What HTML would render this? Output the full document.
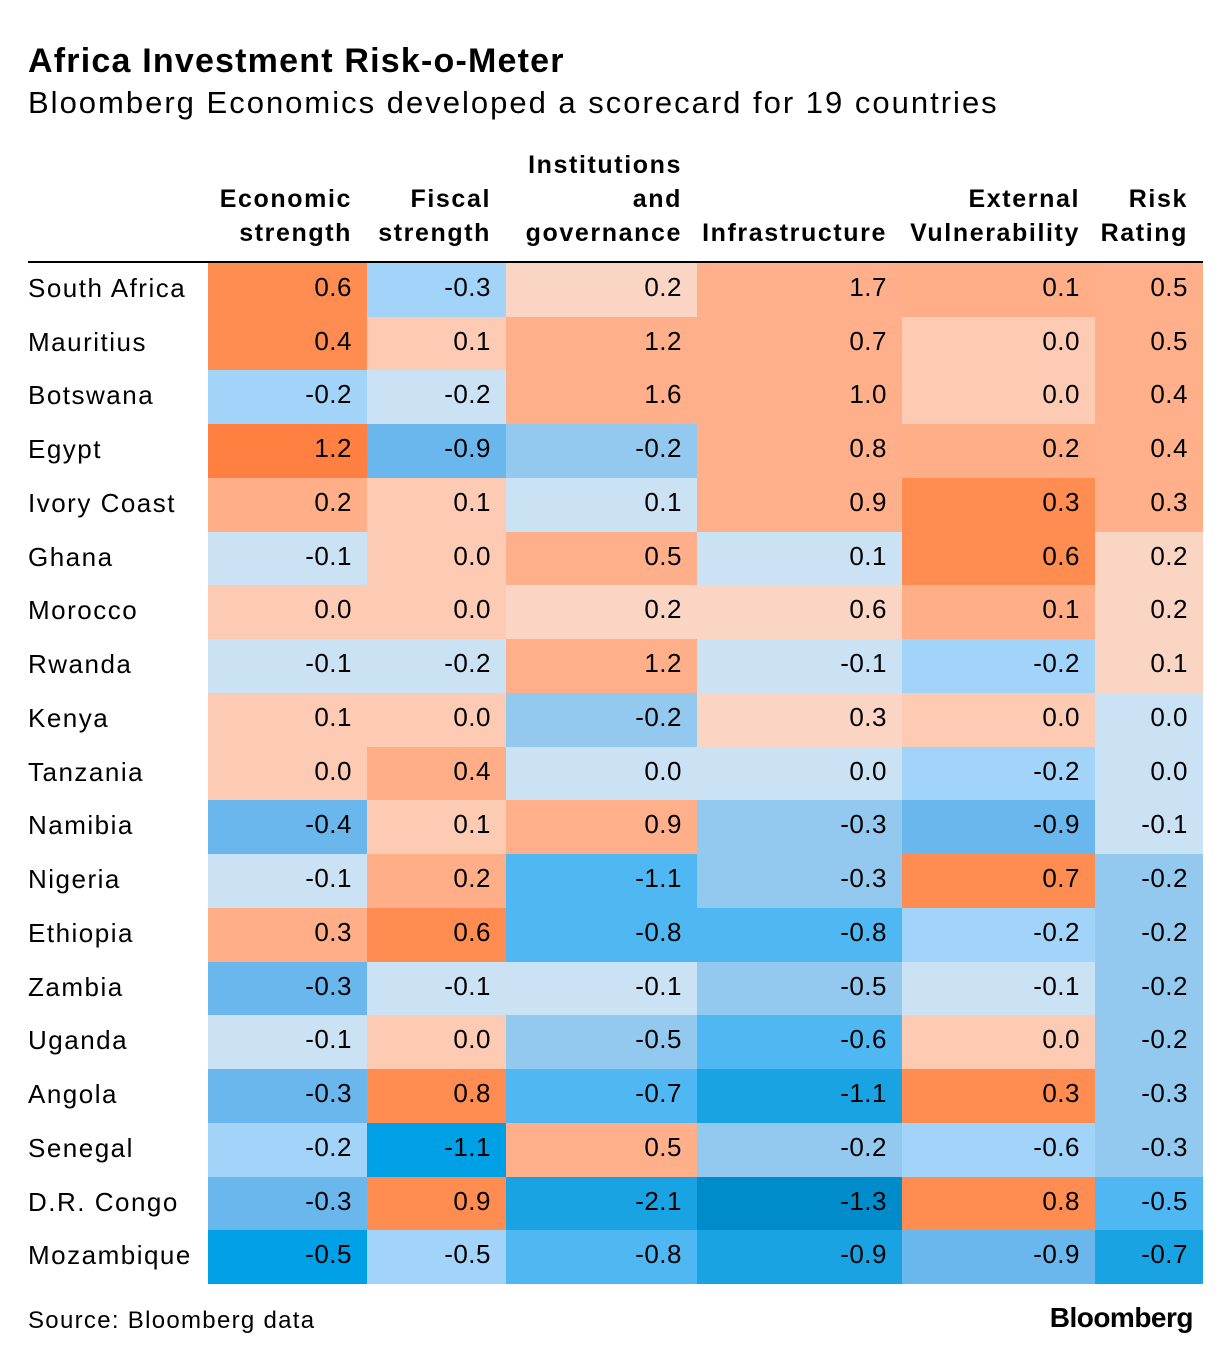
<!DOCTYPE html>
<html><head><meta charset="utf-8">
<style>
body{margin:0;width:1232px;height:1364px;background:#fff;font-family:"Liberation Sans",sans-serif;color:#000;position:relative;overflow:hidden}
.a{position:absolute}
.cell{position:absolute;box-sizing:border-box;text-align:right;padding-right:15px;font-size:26px;line-height:54px;letter-spacing:0.5px}
.rl{position:absolute;left:28px;font-size:26px;line-height:54px;letter-spacing:1.5px}
.hd{position:absolute;font-weight:bold;font-size:25px;line-height:34px;text-align:right;letter-spacing:1.6px}
</style></head><body>
<div class="a" style="left:28px;top:42px;font-size:34px;font-weight:bold;letter-spacing:1.2px">Africa Investment Risk-o-Meter</div>
<div class="a" style="left:28px;top:85px;font-size:31px;letter-spacing:2px">Bloomberg Economics developed a scorecard for 19 countries</div>
<div class="a" style="left:28px;top:261px;width:1175px;height:2px;background:#000"></div>
<div id="tbl"></div>
<div class="a" style="left:28px;top:1307px;font-size:24px;letter-spacing:1.3px">Source: Bloomberg data</div>
<div class="a" style="right:39px;top:1302px;font-size:28px;font-weight:bold;letter-spacing:-0.5px">Bloomberg</div>
<script>
const countries=["South Africa","Mauritius","Botswana","Egypt","Ivory Coast","Ghana","Morocco","Rwanda","Kenya","Tanzania","Namibia","Nigeria","Ethiopia","Zambia","Uganda","Angola","Senegal","D.R. Congo","Mozambique"];
const headers=[["Economic","strength"],["Fiscal","strength"],["Institutions","and","governance"],["Infrastructure"],["External","Vulnerability"],["Risk","Rating"]];
const economic=[0.6,0.4,-0.2,1.2,0.2,-0.1,0.0,-0.1,0.1,0.0,-0.4,-0.1,0.3,-0.3,-0.1,-0.3,-0.2,-0.3,-0.5];
const fiscal=[-0.3,0.1,-0.2,-0.9,0.1,0.0,0.0,-0.2,0.0,0.4,0.1,0.2,0.6,-0.1,0.0,0.8,-1.1,0.9,-0.5];
const institutions=[0.2,1.2,1.6,-0.2,0.1,0.5,0.2,1.2,-0.2,0.0,0.9,-1.1,-0.8,-0.1,-0.5,-0.7,0.5,-2.1,-0.8];
const infrastructure=[1.7,0.7,1.0,0.8,0.9,0.1,0.6,-0.1,0.3,0.0,-0.3,-0.3,-0.8,-0.5,-0.6,-1.1,-0.2,-1.3,-0.9];
const external=[0.1,0.0,0.0,0.2,0.3,0.6,0.1,-0.2,0.0,-0.2,-0.9,0.7,-0.2,-0.1,0.0,0.3,-0.6,0.8,-0.9];
const risk=[0.5,0.5,0.4,0.4,0.3,0.2,0.2,0.1,0.0,0.0,-0.1,-0.2,-0.2,-0.2,-0.2,-0.3,-0.3,-0.5,-0.7];
const series=[economic,fiscal,institutions,infrastructure,external,risk];
// per-column color breakpoints: [min value, color]
const scales=[
 [[1.0,"#ff8040"],[0.4,"#ff8c50"],[0.2,"#ffae88"],[0.0,"#fdcab4"],[-0.1,"#cbe1f4"],[-0.2,"#a2d3f8"],[-0.4,"#6ab7ee"],[-99,"#00a0e6"]],
 [[0.6,"#ff8c50"],[0.2,"#ffae88"],[0.0,"#fdcab4"],[-0.2,"#cbe1f4"],[-0.5,"#a2d3f8"],[-0.9,"#6ab7ee"],[-99,"#00a0e6"]],
 [[0.5,"#ffb08a"],[0.2,"#fbd5c4"],[-0.1,"#cbe1f4"],[-0.5,"#93c9ef"],[-1.1,"#4fb8f3"],[-99,"#1aa3e3"]],
 [[0.7,"#ffb08a"],[0.3,"#fbd5c4"],[-0.1,"#cbe1f4"],[-0.5,"#93c9ef"],[-0.8,"#4fb8f3"],[-1.1,"#1aa3e3"],[-99,"#008ccb"]],
 [[0.3,"#ff8c50"],[0.1,"#ffae88"],[0.0,"#fdcab4"],[-0.1,"#cbe1f4"],[-0.6,"#a2d3f8"],[-99,"#6ab7ee"]],
 [[0.3,"#ffb08a"],[0.1,"#fbd5c4"],[-0.1,"#cbe1f4"],[-0.3,"#93c9ef"],[-0.5,"#4fb8f3"],[-99,"#1aa3e3"]]
];
const colX=[208,367,506,697,902,1095,1203];
const top0=263,bottom=1284;
const rowH=(bottom-top0)/countries.length;
function yPos(i){return top0+i*rowH;}
function colorFor(c,v){for(const [t,col] of scales[c]){if(v>=t-1e-9)return col;}return "#ccc";}
const tbl=document.getElementById('tbl');
headers.forEach((h,c)=>{
  const d=document.createElement('div');
  d.className='hd';
  
  
  d.style.right=(1232-colX[c+1]+15)+'px';
  d.style.bottom=(1364-250)+'px';
  d.style.whiteSpace='nowrap';
  d.innerHTML=h.join('<br>');
  tbl.appendChild(d);
});
countries.forEach((name,i)=>{
  const l=document.createElement('div');
  l.className='rl';
  
  
  l.style.top=(yPos(i)-2)+'px';l.style.height=rowH+'px';
  l.textContent=name;
  tbl.appendChild(l);
  series.forEach((s,c)=>{
    const v=s[i];
    const d=document.createElement('div');
    d.className='cell';
    
    
    d.style.left=colX[c]+'px';
    d.style.width=(colX[c+1]-colX[c])+'px';
    d.style.top=yPos(i)+'px';
    d.style.height=(rowH+0.5)+'px';
    d.style.lineHeight=(rowH-4)+'px';
    d.style.background=colorFor(c,v);
    d.textContent=v.toFixed(1);
    tbl.appendChild(d);
  });
});
</script>
</body></html>
